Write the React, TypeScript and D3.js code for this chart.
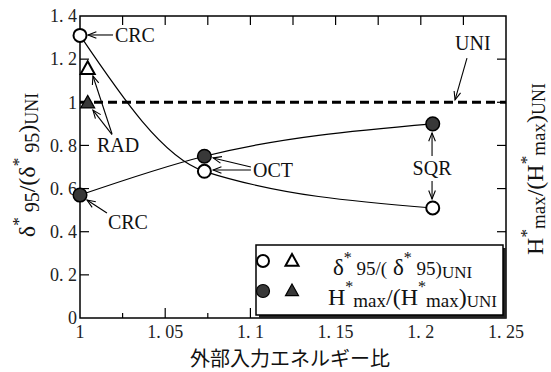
import * as d3 from "d3";

// energy ratio on the x axis
const xOct = 1.073;
const xSqr = 1.207;

const deltaX = [1, xOct, xSqr];
const deltaY = [1.31, 0.68, 0.51];
const hmaxX = [1, xOct, xSqr];
const hmaxY = [0.57, 0.75, 0.9];

// RAD case (triangles)
const radX = [1.0045];
const radDelta = [1.155];
const radHmax = [0.997];

const uniLevel = 1;

const xTickValues = [1, 1.05, 1.1, 1.15, 1.2, 1.25];
const xTickLabels = ["1", "1. 05", "1. 1", "1. 15", "1. 2", "1. 25"];
const xMinorTicks = [1.025, 1.075, 1.125, 1.175, 1.225];
const yTickValues = [0, 0.2, 0.4, 0.6, 0.8, 1, 1.2, 1.4];
const yTickLabels = ["0", "0. 2", "0. 4", "0. 6", "0. 8", "1", "1. 2", "1. 4"];

// label positions and arrows, in data units
const annotations = [
  { label: "CRC", lx: 1.0205, ly: 1.312, anchor: "start", arrows: [[1.0194, 1.312, 1.0047, 1.312]] },
  {
    label: "RAD", lx: 1.01, ly: 0.802, anchor: "start",
    arrows: [[1.0188, 0.853, 1.0076, 1.122], [1.0188, 0.85, 1.0076, 0.964]],
  },
  { label: "CRC", lx: 1.0164, ly: 0.445, anchor: "start", arrows: [[1.0158, 0.487, 1.0041, 0.547]] },
  {
    label: "OCT", lx: 1.1015, ly: 0.686, anchor: "start",
    arrows: [[1.1003, 0.7, 1.0781, 0.742], [1.1003, 0.686, 1.0781, 0.686]],
  },
  {
    label: "SQR", lx: 1.2066, ly: 0.695, anchor: "middle",
    arrows: [[1.2066, 0.751, 1.2066, 0.858], [1.2066, 0.635, 1.2066, 0.552]],
  },
  { label: "UNI", lx: 1.2201, ly: 1.275, anchor: "start", arrows: [[1.2271, 1.205, 1.2201, 1.011]] },
];

const W = 551;
const H = 372;
const M = { left: 80, top: 16, right: 506, bottom: 318 };
const serif = "Liberation Serif";
const fill = "#383838";

function arrowHead(x1: number, y1: number, x2: number, y2: number) {
  const a = Math.atan2(y2 - y1, x2 - x1);
  const len = 9;
  const spread = 0.38;
  const p1 = [x2 - len * Math.cos(a - spread), y2 - len * Math.sin(a - spread)];
  const p2 = [x2 - len * Math.cos(a + spread), y2 - len * Math.sin(a + spread)];
  return `M${p1[0]},${p1[1]}L${x2},${y2}L${p2[0]},${p2[1]}`;
}

function triangle(cx: number, cy: number, s: number) {
  const h = s * 0.9;
  return `M${cx},${cy - h * 0.6}L${cx + s / 2},${cy + h * 0.4}L${cx - s / 2},${cy + h * 0.4}Z`;
}

export default function App() {
  const x = d3.scaleLinear().domain([1, 1.25]).range([M.left, M.right]);
  const y = d3.scaleLinear().domain([0, 1.4]).range([M.bottom, M.top]);

  const line = d3
    .line<[number, number]>()
    .x((d) => x(d[0]))
    .y((d) => y(d[1]))
    .curve(d3.curveMonotoneX);

  const deltaPts = deltaX.map((v, i) => [v, deltaY[i]] as [number, number]);
  const hmaxPts = hmaxX.map((v, i) => [v, hmaxY[i]] as [number, number]);

  const lg = { x: 256, y: 245, w: 247, h: 70 };

  return (
    <div style={{ position: "absolute", left: 0, top: 0 }}>
      <svg width={W} height={H} style={{ display: "block", background: "#fff" }} fontFamily={serif}>
        {/* frame */}
        <rect
          x={M.left}
          y={M.top}
          width={M.right - M.left}
          height={M.bottom - M.top}
          fill="none"
          stroke="#000"
          strokeWidth={1.5}
        />

        {/* y ticks, both sides, inward */}
        {yTickValues.map((v, i) => (
          <g key={"y" + i}>
            {v > 0 && v < 1.4 && (
              <>
                <line x1={M.left} x2={M.left + 9} y1={y(v)} y2={y(v)} stroke="#000" strokeWidth={1.2} />
                <line x1={M.right - 9} x2={M.right} y1={y(v)} y2={y(v)} stroke="#000" strokeWidth={1.2} />
              </>
            )}
            <text x={77} y={y(v)} dy="0.35em" textAnchor="end" fontSize={18} fill="#222">
              {yTickLabels[i]}
            </text>
          </g>
        ))}

        {/* x ticks */}
        {xTickValues.map((v, i) => (
          <g key={"x" + i}>
            {v > 1 && v < 1.25 && (
              <>
                <line x1={x(v)} x2={x(v)} y1={M.bottom} y2={M.bottom - 10} stroke="#000" strokeWidth={1.2} />
                <line x1={x(v)} x2={x(v)} y1={M.top} y2={M.top + 9} stroke="#000" strokeWidth={1.2} />
              </>
            )}
            <text x={x(v)} y={338} textAnchor="middle" fontSize={18} fill="#222">
              {xTickLabels[i]}
            </text>
          </g>
        ))}
        {xMinorTicks.map((v, i) => (
          <g key={"m" + i}>
            <line x1={x(v)} x2={x(v)} y1={M.bottom} y2={M.bottom - 5} stroke="#000" strokeWidth={1.2} />
            <line x1={x(v)} x2={x(v)} y1={M.top} y2={M.top + 9} stroke="#000" strokeWidth={1.2} />
          </g>
        ))}

        {/* UNI reference */}
        <line
          x1={M.left}
          x2={M.right}
          y1={y(uniLevel)}
          y2={y(uniLevel)}
          stroke="#000"
          strokeWidth={3}
          strokeDasharray="9 5"
        />

        {/* curves */}
        <path d={line(deltaPts) ?? ""} fill="none" stroke="#000" strokeWidth={1.2} />
        <path d={line(hmaxPts) ?? ""} fill="none" stroke="#000" strokeWidth={1.2} />

        {/* markers */}
        {hmaxPts.map((p, i) => (
          <circle key={"h" + i} cx={x(p[0])} cy={y(p[1])} r={6.8} fill={fill} stroke="#000" strokeWidth={1.5} />
        ))}
        {deltaPts.map((p, i) => (
          <circle key={"d" + i} cx={x(p[0])} cy={y(p[1])} r={6.5} fill="#fff" stroke="#000" strokeWidth={2} />
        ))}
        {radX.map((v, i) => (
          <g key={"r" + i}>
            <path d={triangle(x(v), y(radDelta[i]), 14)} fill="#fff" stroke="#000" strokeWidth={2} />
            <path d={triangle(x(v), y(radHmax[i]), 14)} fill={fill} stroke="#000" strokeWidth={1.2} />
          </g>
        ))}

        {/* annotations */}
        {annotations.map((a, i) => (
          <g key={"a" + i}>
            <text x={x(a.lx)} y={y(a.ly)} dy="0.35em" textAnchor={a.anchor as any} fontSize={20} fill="#111">
              {a.label}
            </text>
            {a.arrows.map((ar, j) => {
              const x1 = x(ar[0]);
              const y1 = y(ar[1]);
              const x2 = x(ar[2]);
              const y2 = y(ar[3]);
              return (
                <g key={j}>
                  <line x1={x1} y1={y1} x2={x2} y2={y2} stroke="#000" strokeWidth={1.1} />
                  <path d={arrowHead(x1, y1, x2, y2)} fill="none" stroke="#000" strokeWidth={1.1} />
                </g>
              );
            })}
          </g>
        ))}

        {/* legend */}
        <rect x={lg.x + 3} y={lg.y + 3} width={lg.w} height={lg.h} fill="#222" />
        <rect x={lg.x} y={lg.y} width={lg.w} height={lg.h} fill="#fff" stroke="#000" strokeWidth={1.5} />
        <circle cx={263} cy={261} r={6} fill="#fff" stroke="#000" strokeWidth={2} />
        <path d={triangle(292, 261, 13)} fill="#fff" stroke="#000" strokeWidth={2} />
        <circle cx={263} cy={291} r={6.5} fill={fill} stroke="#000" strokeWidth={1.2} />
        <path d={triangle(292, 291, 13)} fill={fill} stroke="#000" strokeWidth={1.2} />
        <text x={333} y={275} fontSize={23} fill="#111">
          δ
          <tspan dy={-12} fontSize={16}>*</tspan>
          <tspan dy={12} fontSize={19}> 95/(</tspan>
          <tspan fontSize={23}> δ</tspan>
          <tspan dy={-12} fontSize={16}>*</tspan>
          <tspan dy={12} fontSize={19}> 95)</tspan>
          <tspan dy={3} fontSize={17}>UNI</tspan>
        </text>
        <text x={328} y={305} fontSize={24} fill="#111">
          H
          <tspan dy={-13} fontSize={16}>*</tspan>
          <tspan dy={15} fontSize={19}>max</tspan>
          <tspan dy={-2} fontSize={24}>/(H</tspan>
          <tspan dy={-13} fontSize={16}>*</tspan>
          <tspan dy={15} fontSize={19}>max</tspan>
          <tspan dy={-2} fontSize={24}>)</tspan>
          <tspan dy={2} fontSize={17}>UNI</tspan>
        </text>

        {/* axis titles */}
        <text transform="translate(35,165) rotate(-90)" textAnchor="middle" fontSize={24} fill="#111">
          δ
          <tspan dy={-11} fontSize={17}>*</tspan>
          <tspan dy={15} fontSize={20}> 95</tspan>
          <tspan dy={-4}>/(δ</tspan>
          <tspan dy={-11} fontSize={17}>*</tspan>
          <tspan dy={15} fontSize={20}> 95</tspan>
          <tspan dy={-4}>)</tspan>
          <tspan dy={3} fontSize={18}>UNI</tspan>
        </text>
        <text transform="translate(543,169) rotate(-90)" textAnchor="middle" fontSize={24} fill="#111">
          H
          <tspan dy={-11} fontSize={17}>*</tspan>
          <tspan dy={13} fontSize={19}>max</tspan>
          <tspan dy={-2}>/(H</tspan>
          <tspan dy={-11} fontSize={17}>*</tspan>
          <tspan dy={13} fontSize={19}>max</tspan>
          <tspan dy={-2}>)</tspan>
          <tspan dy={2} fontSize={18}>UNI</tspan>
        </text>
        <text
          x={290}
          y={366}
          textAnchor="middle"
          fontFamily="Noto Sans CJK JP"
          fontSize={20}
          fill="#111"
        >
          外部入力エネルギー比
        </text>
      </svg>
    </div>
  );
}
